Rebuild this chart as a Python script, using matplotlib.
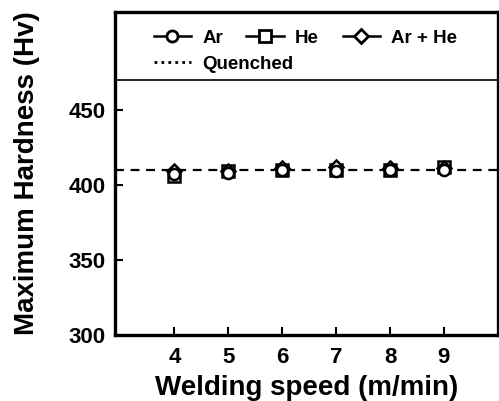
import matplotlib.pyplot as plt
from matplotlib.lines import Line2D

plt.rcParams['font.family'] = ['Liberation Sans', 'DejaVu Sans']
plt.rcParams['font.weight'] = 'bold'

speed = [4, 5, 6, 7, 8, 9]
hv_ar = [407, 408, 410, 409, 410, 410]
hv_he = [406, 409, 410, 410, 410, 412]
hv_arhe = [409, 409, 411, 412, 411, 411]
quenched = 410

fig = plt.figure(figsize=(4.99, 4.01), dpi=100)
ax = fig.add_axes([0.2305, 0.165, 0.767, 0.805])

ax.axhline(quenched, color='black', linestyle=(0, (4, 3)), linewidth=1.6, zorder=1)
ms = 8
ax.plot(speed, hv_he, 's', ms=ms, mfc='white', mec='black', mew=1.8, zorder=3)
ax.plot(speed, hv_arhe, 'D', ms=ms - 1, mfc='white', mec='black', mew=1.8, zorder=4)
ax.plot(speed, hv_ar, 'o', ms=ms, mfc='white', mec='black', mew=1.8, zorder=5)

# legend band on top
ax.axhline(470, color='black', linewidth=1.2)
h_ar = Line2D([], [], color='black', lw=1.8, marker='o', ms=ms, mfc='white', mec='black', mew=2)
h_he = Line2D([], [], color='black', lw=1.8, marker='s', ms=ms, mfc='white', mec='black', mew=2)
h_arhe = Line2D([], [], color='black', lw=1.8, marker='D', ms=ms - 1, mfc='white', mec='black', mew=2)
h_q = Line2D([], [], color='black', lw=2, linestyle=(0, (1, 1.5)))

leg1 = ax.legend([h_ar, h_he, h_arhe], ['Ar', 'He', 'Ar + He'], ncol=3, frameon=False,
                 loc='upper left', bbox_to_anchor=(0.081, 0.968), borderaxespad=0,
                 fontsize=13.5, handlelength=2.0, handletextpad=0.6, columnspacing=1.25)
ax.add_artist(leg1)
ax.legend([h_q], ['Quenched'], frameon=False, loc='upper left',
          bbox_to_anchor=(0.081, 0.888), borderaxespad=0, fontsize=13.5,
          handlelength=2.0, handletextpad=0.6)

ax.set_xlim(2.9, 10)
ax.set_ylim(300, 515)
ax.set_xticks(speed)
ax.set_yticks([300, 350, 400, 450])
ax.tick_params(direction='in', length=6, width=1.5, labelsize=16)
ax.tick_params(axis='x', pad=9)
ax.tick_params(axis='y', pad=7)
for s in ax.spines.values():
    s.set_linewidth(2.4)
ax.set_xlabel('Welding speed (m/min)', fontsize=20, fontweight='bold', labelpad=5)
ax.set_ylabel('Maximum Hardness (Hv)', fontsize=20, fontweight='bold', labelpad=20)

fig.savefig('out.png', dpi=100)
